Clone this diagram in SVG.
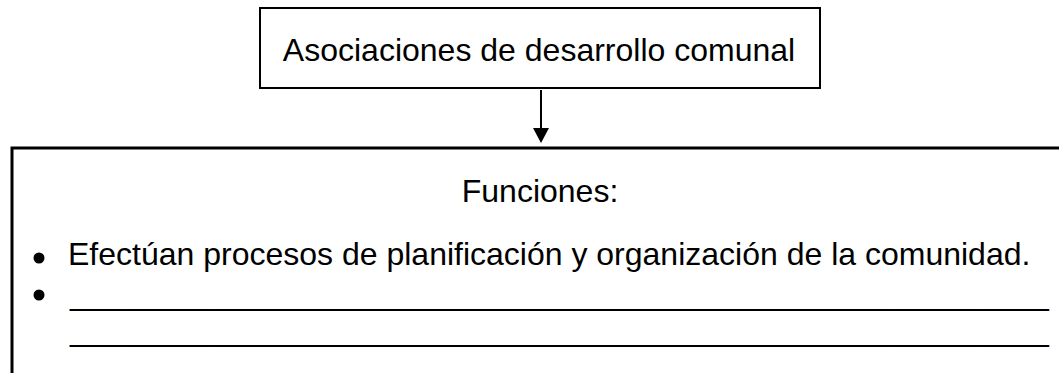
<svg xmlns="http://www.w3.org/2000/svg" width="1059" height="373" viewBox="0 0 1059 373">
<style>
.t{font-family:"Liberation Sans",Arial,sans-serif;font-size:32px;fill:#000}
.box{fill:#fff;stroke:#000}
</style>
<rect width="1059" height="373" fill="#fff"/>
<g id="node-asociaciones">
<rect class="box" x="260" y="8" width="560" height="80" stroke-width="2"/>
<text class="t" x="539" y="61" text-anchor="middle">Asociaciones de desarrollo comunal</text>
</g>
<g id="connectors">
<line x1="541" y1="90" x2="541" y2="130" stroke="#000" stroke-width="2"/>
<path d="M533,128 L549,128 L541,143 Z" fill="#000"/>
</g>
<g id="node-funciones">
<path d="M12,380 L12,148 L1065,148" fill="none" stroke="#000" stroke-width="3"/>
<text class="t" x="540" y="202" text-anchor="middle">Funciones:</text>
<circle cx="39" cy="258" r="5.5" fill="#000"/>
<text class="t" x="68" y="265">Efectúan procesos de planificación y organización de la comunidad.</text>
<circle cx="39" cy="295" r="5.5" fill="#000"/>
<text class="t" x="70" y="305">_______________________________________________________</text>
<text class="t" x="70" y="341">_______________________________________________________</text>
</g>
</svg>
